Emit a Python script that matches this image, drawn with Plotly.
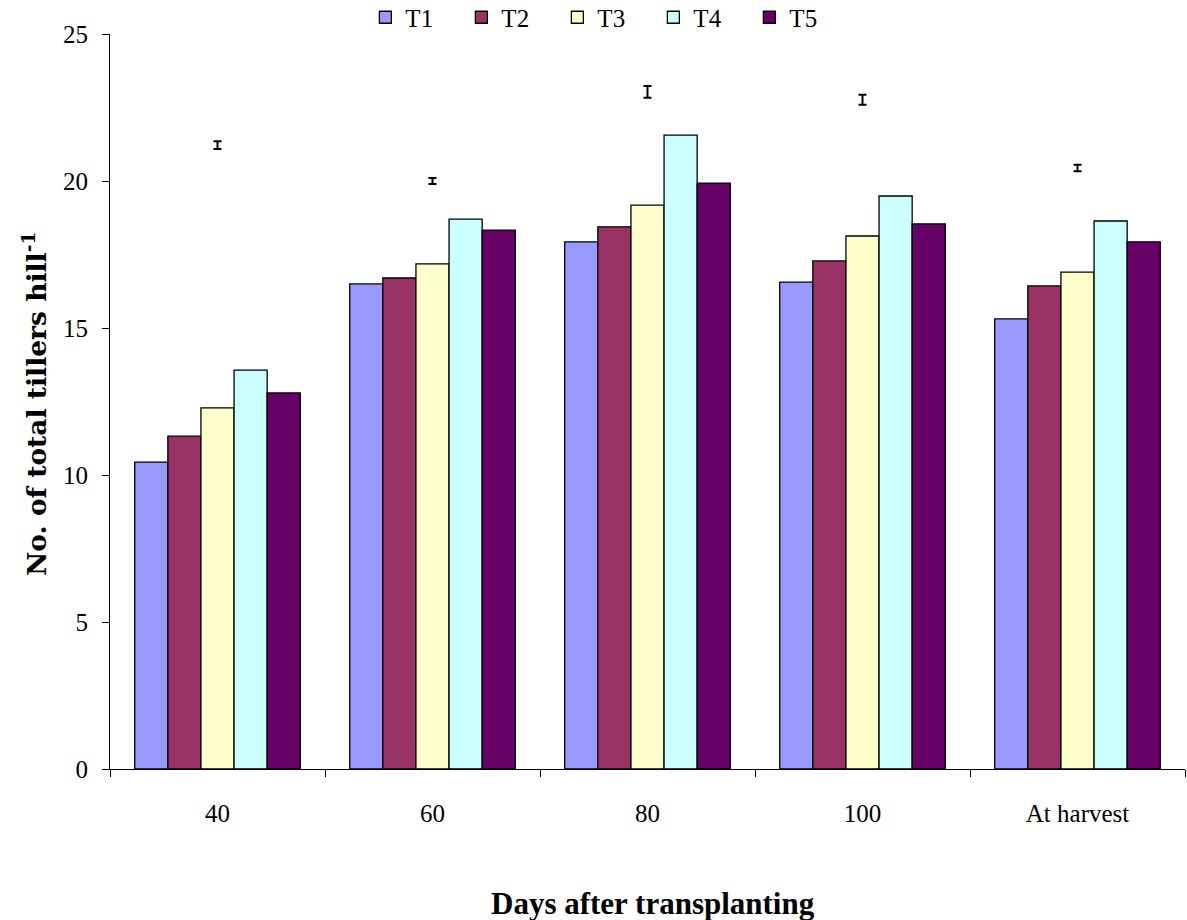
import plotly.graph_objects as go

categories = ["40", "60", "80", "100", "At harvest"]
series_names = ["T1", "T2", "T3", "T4", "T5"]
T1 = [10.44, 16.50, 17.93, 16.56, 15.31]
T2 = [11.32, 16.70, 18.44, 17.28, 16.43]
T3 = [12.28, 17.18, 19.18, 18.13, 16.90]
T4 = [13.57, 18.70, 21.56, 19.49, 18.64]
T5 = [12.79, 18.33, 19.93, 18.54, 17.93]
lsd_center = [21.22, 20.00, 23.03, 22.76, 20.44]
lsd_half = [0.13, 0.10, 0.20, 0.17, 0.11]
colors = ["#9999FF", "#993366", "#FFFFCC", "#CCFFFF", "#660066"]

font_family = "Liberation Serif, DejaVu Serif, serif"

fig = go.Figure()
for name, vals, c in zip(series_names, [T1, T2, T3, T4, T5], colors):
    fig.add_trace(go.Bar(
        x=categories, y=vals, name=name,
        marker=dict(color=c, line=dict(color="black", width=1.3)),
    ))

fig.add_trace(go.Scatter(
    x=categories, y=lsd_center, mode="markers",
    marker=dict(size=0.1, color="rgba(0,0,0,0)"),
    error_y=dict(type="data", array=lsd_half, color="black", thickness=2, width=4),
    showlegend=False, hoverinfo="skip",
))

fig.update_layout(
    width=1187, height=920,
    margin=dict(l=110, r=2, t=34, b=151, autoexpand=False),
    plot_bgcolor="white", paper_bgcolor="white",
    barmode="group", bargap=0.23, bargroupgap=0,
    font=dict(family=font_family, size=25, color="black"),
    legend=dict(
        orientation="h", xref="container", yref="container",
        x=0.51, xanchor="center", y=0.981, yanchor="middle",
        font=dict(size=25), entrywidth=51, itemwidth=30,
        bgcolor="rgba(0,0,0,0)",
    ),
    xaxis=dict(
        type="category", showline=True, linecolor="black", linewidth=1,
        ticks="outside", tickson="boundaries", ticklen=7, tickcolor="black",
        ticklabelstandoff=22, showgrid=False, zeroline=False,
    ),
    yaxis=dict(
        range=[0, 25], tickvals=[0, 5, 10, 15, 20, 25],
        showline=True, linecolor="black", linewidth=1,
        ticks="outside", ticklen=7, tickcolor="black",
        ticklabelstandoff=9, showgrid=False, zeroline=False,
    ),
    annotations=[
        dict(text="<b>Days after transplanting</b>", xref="paper", yref="paper",
             x=(653 - 110) / 1075, y=-(903 - 769) / 735, xanchor="center", yanchor="middle",
             showarrow=False, font=dict(size=31)),
        dict(text="<b>No. of total tillers hill<sup>-1</sup></b>", xref="paper", yref="paper",
             x=-(110 - 35) / 1075, y=(769 - 404) / 735, xanchor="center", yanchor="middle",
             textangle=-90, showarrow=False,
             font=dict(size=26.5, family="DejaVu Serif, serif")),
    ],
)

fig.write_html("out.html")
